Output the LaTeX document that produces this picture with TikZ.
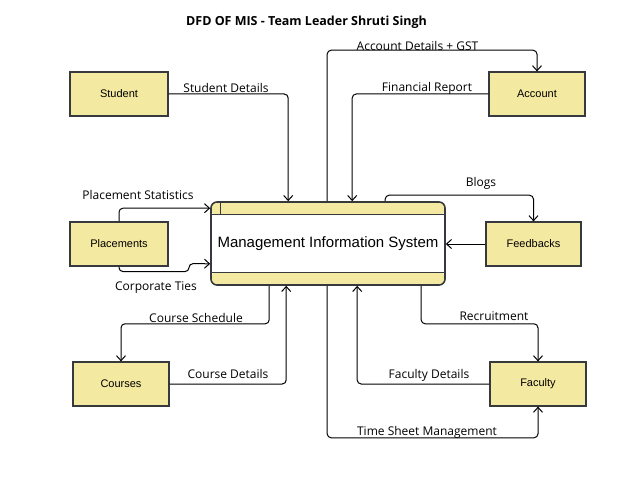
\documentclass[tikz,border=0pt]{standalone}
\usepackage{fontspec}
\setmainfont{Liberation Sans}
\newfontfamily\lblfont{Open Sans}
\usetikzlibrary{arrows.meta}
\definecolor{boxfill}{RGB}{244,233,160}
\definecolor{boxline}{RGB}{54,57,61}
\tikzset{
  entity/.style={draw=boxline, line width=1.2pt, fill=boxfill, minimum width=96pt, minimum height=44pt, inner sep=0pt, font=\fontsize{11}{13}\selectfont},
  flow/.style={draw=black, line width=1pt, rounded corners=4pt, -{Straight Barb[length=5pt,width=9pt,line width=1pt]}},
  lbl/.style={font=\lblfont\fontsize{12}{14}\selectfont, inner sep=0pt}
}
\begin{document}
\begin{tikzpicture}[x=1pt,y=-1pt]
\useasboundingbox[fill=white] (0,0) rectangle (624,500);
\node[font=\lblfont\bfseries\fontsize{12.5}{15}\selectfont] (title) at (306.5,22) {DFD OF MIS - Team Leader Shruti Singh};

\node[entity, minimum width=98pt] (student) at (119,94) {Student};
\node[entity] (account) at (537,94) {Account};
\node[entity, minimum width=98pt] (placements) at (119,244) {Placements};
\node[entity, minimum width=95pt] (feedbacks) at (533.5,244) {Feedbacks};
\node[entity] (courses) at (121,384) {Courses};
\node[entity] (faculty) at (538,384) {Faculty};

\node[draw=boxline, line width=1.6pt, fill=white, rounded corners=6pt, minimum width=234pt, minimum height=83pt, inner sep=0pt,
  font=\fontsize{15}{18}\selectfont,
  path picture={
    \fill[boxfill] (path picture bounding box.north west) rectangle ([yshift=-13pt]path picture bounding box.north east);
    \fill[boxfill] (path picture bounding box.south west) rectangle ([yshift=13pt]path picture bounding box.south east);
  }] (mis) at (328,243.5) {Management Information System};
\draw[boxline, line width=1.3pt] ([yshift=-13pt]mis.north west) -- ([yshift=-13pt]mis.north east);
\draw[boxline, line width=1.3pt] ([yshift=13pt]mis.south west) -- ([yshift=13pt]mis.south east);
\draw[boxline, line width=1pt] ([xshift=10pt]mis.north west) -- ([xshift=10pt,yshift=-13pt]mis.north west);

\draw[flow] (student.east) -| ([xshift=78pt]mis.north west);
\draw[flow] (account.west) -| ([xshift=142pt]mis.north west);
\draw[flow] ([xshift=117pt]mis.north west) -- ++(0,-151) -| (account.north);
\draw[flow] ([xshift=175pt]mis.north west) -- ++(0,-6) -| (feedbacks.north);
\draw[flow] (feedbacks.west) -- (feedbacks.west -| mis.east);
\draw[flow] (placements.north) |- ([yshift=-7pt]mis.north west);
\draw[flow] (placements.south) -- ++(0,5) -| ++(70,-8) -- ([yshift=22pt]mis.south west);
\draw[flow] ([xshift=59pt]mis.south west) -- ++(0,38) -| (courses.north);
\draw[flow] (courses.east) -| ([xshift=76pt]mis.south west);
\draw[flow] ([xshift=211pt]mis.south west) -- ++(0,38) -| (faculty.north);
\draw[flow] (faculty.west) -| ([xshift=147pt]mis.south west);
\draw[flow] ([xshift=117pt]mis.south west) -- ++(0,152) -| (faculty.south);

\node[lbl] (l1) at (226,88) {Student Details};
\node[lbl] (l2) at (427,88) {Financial Report};
\node[lbl] (l3) at (417.5,46) {Account Details + GST};
\node[lbl] (l4) at (481,183) {Blogs};
\node[lbl] (l5) at (138,195) {Placement Statistics};
\node[lbl] (l6) at (156,288) {Corporate Ties};
\node[lbl] (l7) at (196,318) {Course Schedule};
\node[lbl] (l8) at (228,374) {Course Details};
\node[lbl] (l9) at (494,316) {Recruitment};
\node[lbl] (l10) at (429,375) {Faculty Details};
\node[lbl] (l11) at (427,432) {Time Sheet Management};
\end{tikzpicture}
\end{document}
